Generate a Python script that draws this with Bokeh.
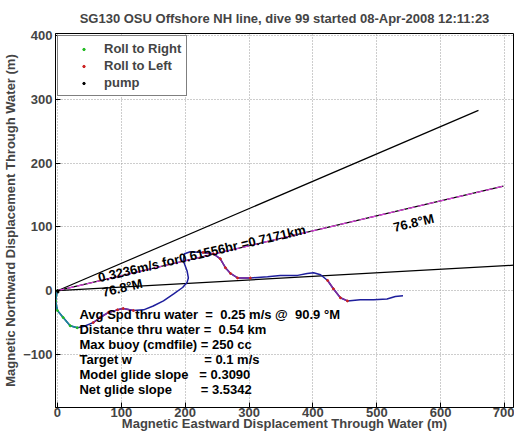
import math
from bokeh.plotting import figure
from bokeh.models import Range1d, FixedTicker, Legend, LegendItem
from bokeh.core.properties import value
from bokeh.embed import file_html
from bokeh.resources import INLINE

# ---------------- data ----------------
title_text = "SG130 OSU Offshore NH line, dive 99 started 08-Apr-2008 12:11:23"
x_label = "Magnetic Eastward Displacement Through Water (m)"
y_label = "Magnetic Northward Displacement Through Water (m)"
x_ticks = [0, 100, 200, 300, 400, 500, 600, 700]
y_ticks = [-100, 0, 100, 200, 300, 400]

# glider track through water (m)
track_x = [0, -3, 0, 9, 20, 31, 41, 56, 67, 80, 94, 103, 119, 135, 150, 166, 182, 196,
           203, 205, 203, 200, 197, 199, 208, 228, 244, 255, 263, 271, 282, 302, 329,
           349, 376, 391, 401, 412, 423, 432, 443, 454, 474, 495, 516, 529, 541]
track_y = [0, -16, -31, -42, -55, -58, -56, -50, -42, -34, -30, -28, -31, -30, -24, -16,
           -5, 5, 13, 20, 31, 39, 47, 58, 61, 60, 58, 50, 36, 27, 20, 20, 22, 24, 24, 27,
           28, 25, 16, 3, -11, -16, -14, -14, -13, -9, -8]

# roll to right samples
roll_right_x = [0, -3, 0, 9, 20, 31]
roll_right_y = [0, -16, -31, -42, -55, -58]
# roll to left samples (three stretches)
roll_left_x1 = [56, 67, 80, 94, 103, 119]
roll_left_y1 = [-50, -42, -34, -30, -28, -31]
roll_left_x2 = [228, 244, 255, 263, 271, 282, 302]
roll_left_y2 = [60, 58, 50, 36, 27, 20, 20]
roll_left_x3 = [423, 432, 443, 454]
roll_left_y3 = [16, 3, -11, -16]
# pump samples
pump_x = [0, 1]
pump_y = [0, -2]

heading_deg = 76.8      # degrees magnetic
heading_spread = 10.0   # degrees either side
speed_ms = 0.3236
dive_hours = 0.61556
dist_km = 0.7171

NB = "\u00a0"
info_lines = [
    "Avg Spd thru water" + NB * 2 + "=" + NB * 2 + "0.25 m/s @" + NB * 2 + "90.9 \u00b0M",
    "Distance thru water =" + NB * 2 + "0.54 km",
    "Max buoy (cmdfile)" + NB + "= 250 cc",
    "Target w" + NB * 20 + "= 0.1 m/s",
    "Model glide slope" + NB * 3 + "= 0.3090",
    "Net glide slope" + NB * 8 + "= 3.5342",
]

FONT = "Liberation Sans"
FS = "13px"

# ---------------- figure ----------------
p = figure(frame_width=458, frame_height=374, output_backend="svg", toolbar_location=None,
           x_range=Range1d(-3, 714), y_range=Range1d(-183, 403),
           min_border_left=47, min_border_right=1, min_border_top=25, min_border_bottom=20)
p.background_fill_color = "white"
p.border_fill_color = "white"
p.outline_line_color = "black"
p.outline_line_width = 1

p.title.text = title_text
p.title.text_font = FONT
p.title.text_font_size = FS
p.title.text_font_style = "bold"
p.title.align = "center"
p.title.standoff = 16

for ax, ticks, lab in ((p.xaxis[0], x_ticks, x_label), (p.yaxis[0], y_ticks, y_label)):
    ax.ticker = FixedTicker(ticks=ticks)
    ax.axis_label = lab
    ax.axis_label_text_font = FONT
    ax.axis_label_text_font_size = FS
    ax.axis_label_text_font_style = "bold"
    ax.major_label_text_font = FONT
    ax.major_label_text_font_size = FS
    ax.major_label_text_font_style = "bold"
    ax.major_tick_in = 5
    ax.major_tick_out = 0
    ax.minor_tick_line_color = None
    ax.axis_line_color = "black"
p.xaxis.major_label_standoff = 0
p.xaxis.axis_label_standoff = -4
p.yaxis.major_label_standoff = 3
p.yaxis.axis_label_standoff = 2

for g, ticks in ((p.xgrid[0], x_ticks), (p.ygrid[0], y_ticks)):
    g.ticker = FixedTicker(ticks=ticks)
    g.grid_line_color = "#9a9a9a"
    g.grid_line_dash = "1 2"
    g.grid_line_width = 1

# heading lines
h = math.radians(heading_deg)
hl = math.radians(heading_deg - heading_spread)
hr = math.radians(heading_deg + heading_spread)
d = dist_km * 1000.0
p.line([0, d * math.sin(hl)], [0, d * math.cos(hl)], line_color="black", line_width=1.2)
p.line([0, d * math.sin(hr)], [0, d * math.cos(hr)], line_color="black", line_width=1.2)
p.line([0, d * math.sin(h)], [0, d * math.cos(h)], line_color="black", line_width=1.2)
p.line([0, d * math.sin(h)], [0, d * math.cos(h)], line_color="#e040e0", line_width=1.2,
       line_dash="7 3")

# track
p.line(track_x, track_y, line_color="#1e1e9c", line_width=1.5)
p.line(roll_right_x, roll_right_y, line_color="#1a8c96", line_width=1.5)
for lx, ly in ((roll_left_x1, roll_left_y1), (roll_left_x2, roll_left_y2),
               (roll_left_x3, roll_left_y3)):
    p.line(lx, ly, line_color="#7d2a9e", line_width=1.5)

r_rr = p.scatter(roll_right_x, roll_right_y, size=2, color="#22bb22", marker="circle")
r_rl = p.scatter(roll_left_x1 + roll_left_x2 + roll_left_x3,
                 roll_left_y1 + roll_left_y2 + roll_left_y3,
                 size=2, color="#cc2222", marker="circle")
r_pu = p.scatter(pump_x, pump_y, size=2, color="black", marker="circle")

# rotated labels
ang = math.radians(90.0 - heading_deg)
p.text(x=[64], y=[20],
       text=["%.4fm/s for%.5fhr =%.4fkm" % (speed_ms, dive_hours, dist_km)],
       angle=ang, text_font=value(FONT), text_font_size=FS, text_font_style="bold",
       text_color="black", text_align="left", text_baseline="alphabetic")
p.text(x=[70, 526], y=[-3, 99], text=["%.1f\u00b0M" % heading_deg] * 2,
       angle=ang, text_font=value(FONT), text_font_size=FS, text_font_style="bold",
       text_color="black", text_align="left", text_baseline="alphabetic")

# info text block
y0, dy = -37.6, 23.5
p.text(x=[34.5] * len(info_lines), y=[y0 - i * dy for i in range(len(info_lines))],
       text=info_lines, text_font=value(FONT), text_font_size=FS, text_font_style="bold",
       text_color="black", text_align="left", text_baseline="middle")

legend = Legend(items=[LegendItem(label="Roll to Right", renderers=[r_rr]),
                       LegendItem(label="Roll to Left", renderers=[r_rl]),
                       LegendItem(label="pump", renderers=[r_pu])],
                location="top_left", margin=2, padding=5, spacing=2,
                glyph_width=41, glyph_height=6, label_height=15, label_standoff=0,
                label_text_font=FONT, label_text_font_size=FS,
                label_text_font_style="bold",
                border_line_color="black", border_line_width=1,
                background_fill_color="white", background_fill_alpha=1.0)
p.add_layout(legend)

open("out.html", "w").write(file_html(p, INLINE))
